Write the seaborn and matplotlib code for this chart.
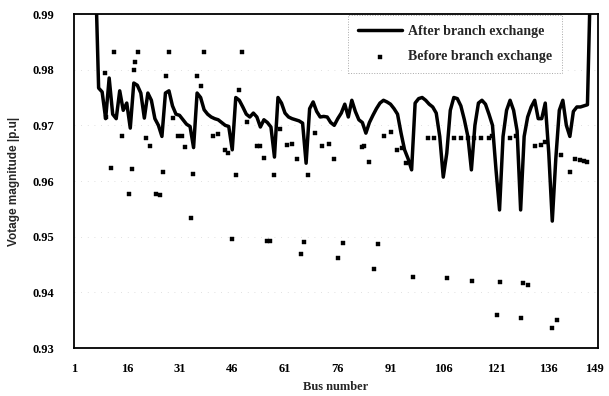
import numpy as np
import pandas as pd
import matplotlib
matplotlib.use("Agg")
import matplotlib.pyplot as plt
import seaborn as sns

# ---- data -------------------------------------------------------------
bus = list(range(1, 151))

after_v = [
    1.0, 1.0, 1.0, 1.0, 1.0, 1.0, 1.0,                       # 1-7
    0.9767, 0.9760, 0.9712, 0.9785, 0.9720, 0.9712, 0.9762,  # 8-14
    0.9727, 0.9740, 0.9695, 0.9776, 0.9772, 0.9758, 0.9713,  # 15-21
    0.9758, 0.9745, 0.9712, 0.9700, 0.9680, 0.9758, 0.9762,  # 22-28
    0.9735, 0.9720, 0.9718, 0.9710, 0.9702, 0.9698, 0.9660,  # 29-35
    0.9758, 0.9750, 0.9728, 0.9720, 0.9715, 0.9712, 0.9710,  # 36-42
    0.9705, 0.9700, 0.9698, 0.9656, 0.9750, 0.9745, 0.9733,  # 43-49
    0.9720, 0.9715, 0.9722, 0.9715, 0.9697, 0.9710, 0.9705,  # 50-56
    0.9697, 0.9643, 0.9750, 0.9740, 0.9722, 0.9715, 0.9712,  # 57-63
    0.9710, 0.9708, 0.9704, 0.9632, 0.9730, 0.9742, 0.9725,  # 64-70
    0.9715, 0.9716, 0.9715, 0.9705, 0.9700, 0.9712, 0.9722,  # 71-77
    0.9738, 0.9715, 0.9745, 0.9725, 0.9710, 0.9705, 0.9686,  # 78-84
    0.9705, 0.9718, 0.9730, 0.9740, 0.9745, 0.9742, 0.9738,  # 85-91
    0.9730, 0.9720, 0.9686, 0.9656, 0.9640, 0.9620, 0.9740,  # 92-98
    0.9748, 0.9750, 0.9745, 0.9738, 0.9733, 0.9722, 0.9680,  # 99-105
    0.9607, 0.9650, 0.9727, 0.9750, 0.9748, 0.9735, 0.9710,  # 106-112
    0.9680, 0.9620, 0.9700, 0.9740, 0.9745, 0.9738, 0.9720,  # 113-119
    0.9700, 0.9620, 0.9548, 0.9680, 0.9727, 0.9745, 0.9727,  # 120-126
    0.9690, 0.9548, 0.9680, 0.9715, 0.9733, 0.9745, 0.9712,  # 127-133
    0.9712, 0.9740, 0.9650, 0.9528, 0.9640, 0.9727, 0.9745,  # 134-140
    0.9700, 0.9680, 0.9725, 0.9733, 0.9733, 0.9735, 0.9737,  # 141-147
    1.0, 1.0, 1.0,                                           # 148-150
]

before_bus = [
    9.8, 10.1, 11.5, 12.4, 14.6, 16.6, 17.5, 18.0, 18.3, 19.2,
    21.5, 22.6, 24.3, 25.4, 26.3, 27.1, 28.0, 29.1, 30.5, 31.7,
    32.5, 34.2, 34.8, 35.9, 37.1, 37.9, 40.5, 41.9, 43.9, 44.8,
    45.9, 47.0, 47.9, 48.7, 50.1, 53.0, 53.8, 55.0, 55.8, 56.7,
    57.8, 59.5, 61.5, 62.9, 64.4, 65.5, 66.3, 67.5, 69.5, 71.5,
    73.4, 74.9, 76.0, 77.4, 82.8, 83.4, 84.8, 86.2, 87.4, 89.1,
    91.1, 92.8, 94.2, 95.3, 97.3, 101.6, 103.3, 107.0, 109.0, 111.0,
    112.9, 114.1, 114.6, 116.6, 118.9, 120.0, 121.2, 122.0, 125.1, 126.6,
    128.0, 128.8, 130.0, 132.0, 133.7, 134.8, 136.8, 138.2, 139.4, 141.9,
    143.6, 144.8, 145.9, 147.0,
]
before_v = [
    0.9794, 0.9715, 0.9623, 0.9832, 0.9681, 0.9577, 0.9622, 0.9800, 0.9814, 0.9832,
    0.9677, 0.9663, 0.9577, 0.9575, 0.9616, 0.9789, 0.9832, 0.9713, 0.9680, 0.9680,
    0.9661, 0.9533, 0.9613, 0.9789, 0.9770, 0.9832, 0.9680, 0.9685, 0.9655, 0.9650,
    0.9496, 0.9610, 0.9763, 0.9832, 0.9706, 0.9663, 0.9663, 0.9641, 0.9492, 0.9492,
    0.9611, 0.9693, 0.9664, 0.9666, 0.9640, 0.9469, 0.9490, 0.9611, 0.9686, 0.9662,
    0.9666, 0.9640, 0.9462, 0.9489, 0.9661, 0.9663, 0.9634, 0.9442, 0.9487, 0.9680,
    0.9688, 0.9656, 0.9660, 0.9632, 0.9428, 0.9678, 0.9678, 0.9426, 0.9678, 0.9678,
    0.9678, 0.9421, 0.9678, 0.9678, 0.9678, 0.9680, 0.9359, 0.9419, 0.9678, 0.9680,
    0.9354, 0.9416, 0.9414, 0.9663, 0.9665, 0.9670, 0.9336, 0.9350, 0.9647, 0.9616,
    0.9640, 0.9638, 0.9636, 0.9634,
]

x_ticks = [1, 16, 31, 46, 61, 76, 91, 106, 121, 136, 149]
y_ticks = [0.93, 0.94, 0.95, 0.96, 0.97, 0.98, 0.99]

after_df = pd.DataFrame({"bus": bus, "v": after_v})
before_df = pd.DataFrame({"bus": before_bus, "v": before_v})

# ---- style ------------------------------------------------------------
sns.set_theme(style="white")
plt.rcParams["font.family"] = ["Liberation Serif", "DejaVu Serif"]

fig = plt.figure(figsize=(6.09, 3.96), dpi=100)
ax = fig.add_axes([74 / 609, 1 - 348 / 396, (598 - 74) / 609, (348 - 14) / 396])

for yv in y_ticks:
    ax.axhline(yv, color="#d6d6d6", lw=0.6, ls=(0, (1, 7)), zorder=0)

sns.scatterplot(data=before_df, x="bus", y="v", ax=ax, marker="s", s=8,
                color="black", edgecolor="black", linewidth=0.3,
                label="Before branch exchange", zorder=2)
sns.lineplot(data=after_df, x="bus", y="v", ax=ax, color="black", lw=2.5,
             label="After branch exchange", zorder=3)

ax.set_xlim(1, 150)
ax.set_ylim(0.93, 0.99)
ax.set_xticks(x_ticks)
ax.set_xticklabels([str(t) for t in x_ticks])
ax.set_yticks(y_ticks)
ax.set_yticklabels([f"{t:.2f}" for t in y_ticks])

for lab in ax.get_xticklabels() + ax.get_yticklabels():
    lab.set_fontweight("bold")
    lab.set_fontsize(9)
ax.tick_params(axis="y", which="both", direction="in", length=2.5, width=0.6,
               pad=14, colors="black")
ax.tick_params(axis="x", which="both", direction="in", length=2.5, width=0.6,
               pad=11, colors="black")

for sp in ax.spines.values():
    sp.set_color("black")
    sp.set_linewidth(1.3)

ax.set_xlabel("Bus number", fontsize=9, fontweight="bold", labelpad=4)
ax.set_ylabel("Votage magnitude |p.u|", fontsize=8.5, fontweight="bold",
              family=["Liberation Sans", "DejaVu Sans"], labelpad=9)

h, l = ax.get_legend_handles_labels()
order = [l.index("After branch exchange"), l.index("Before branch exchange")]
leg = ax.legend([h[i] for i in order], [l[i] for i in order],
                loc="upper right", bbox_to_anchor=(0.931, 0.997),
                prop={"family": "Liberation Serif", "weight": "bold", "size": 10},
                frameon=True, fancybox=False, handlelength=3.2,
                handletextpad=0.4, labelspacing=0.9, borderpad=0.7,
                borderaxespad=0.0)
fr = leg.get_frame()
fr.set_edgecolor("#a8a8a8")
fr.set_linestyle(":")
fr.set_linewidth(0.7)
fr.set_facecolor("white")
fr.set_alpha(1.0)

fig.savefig("out.png", dpi=100)
